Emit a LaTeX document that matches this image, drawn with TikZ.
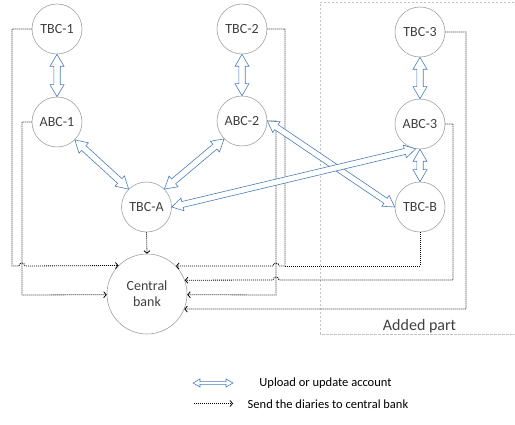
\documentclass[tikz,border=0pt]{standalone}
\usepackage{fontspec}
\setmainfont{Carlito}
\usetikzlibrary{arrows.meta,calc}
\definecolor{arrblue}{RGB}{74,126,187}
\definecolor{txtgray}{RGB}{64,64,64}
\definecolor{ringgray}{RGB}{160,160,160}
\definecolor{boxgray}{RGB}{195,195,195}
\tikzset{
  dblsize/.code n args={3}{\def\dblHL{#1}\def\dblHW{#2}\def\dblSW{#3}},
  dblarrow/.style={draw=arrblue, fill=white, line width=0.6pt, line join=miter,
    to path={let \p1=(\tikztostart), \p2=(\tikztotarget), \n1={atan2(\y2-\y1,\x2-\x1)} in
      -- ($(\p1)+(\n1:\dblHL)+({\n1+90}:\dblHW)$)
      -- ($(\p1)+(\n1:\dblHL)+({\n1+90}:\dblSW)$)
      -- ($(\p2)+({\n1+180}:\dblHL)+({\n1+90}:\dblSW)$)
      -- ($(\p2)+({\n1+180}:\dblHL)+({\n1+90}:\dblHW)$)
      -- (\p2)
      -- ($(\p2)+({\n1+180}:\dblHL)+({\n1-90}:\dblHW)$)
      -- ($(\p2)+({\n1+180}:\dblHL)+({\n1-90}:\dblSW)$)
      -- ($(\p1)+(\n1:\dblHL)+({\n1-90}:\dblSW)$)
      -- ($(\p1)+(\n1:\dblHL)+({\n1-90}:\dblHW)$)
      -- cycle}},
  bigarrow/.style={dblarrow, dblsize={12pt}{7pt}{3.2pt}},
  thinarrow/.style={dblarrow, dblsize={11pt}{6.5pt}{3pt}},
  legarrow/.style={dblarrow, dblsize={7pt}{4pt}{1.4pt}},
  circ/.style={circle, draw=ringgray, line width=0.6pt, fill=white, minimum size=50pt,
    inner sep=0pt, text=txtgray, font=\fontsize{14}{16}\selectfont},
  diary/.style={draw=black, line width=0.8pt, dash pattern=on 1.1pt off 0.9pt},
  diaryarr/.style={diary, -{Straight Barb[length=2.5pt,width=6pt,line width=0.8pt]}},
  lbl/.style={text=txtgray, inner sep=0pt},
}
\begin{document}
\begin{tikzpicture}[x=1pt, y=-1pt]
\useasboundingbox (0,0) rectangle (515,425);
% added part frame
\draw[boxgray, line width=0.8pt, dash pattern=on 2.5pt off 1.5pt]
  (518,2) -- (320,2) -- (320,334) -- (518,334);
\node[lbl, font=\fontsize{16}{18}\selectfont] (added) at (419.5,326) {Added part};
% nodes
\node[circ] (tbc1) at (57,29) {TBC-1};
\node[circ] (abc1) at (57,122) {ABC-1};
\node[circ] (tbc2) at (242,29) {TBC-2};
\node[circ] (abc2) at (242,121) {ABC-2};
\node[circ] (tbc3) at (420,32) {TBC-3};
\node[circ] (abc3) at (420,124) {ABC-3};
\node[circ] (tbca) at (146.5,207) {TBC-A};
\node[circ] (tbcb) at (420,207) {TBC-B};
\node[circ, minimum size=80pt, align=center] (cb) at (147,294) {Central\\bank};
% dotted lines to central bank
\draw[diaryarr] (tbc1.west) -- (12,29) -- (12,266) -- (19,266)
  arc[start angle=180, end angle=360, radius=3] -- (cb.135.6);
\draw[diaryarr] (abc1.west) -- (22,122) -- (22,295) -- (cb.181.4);
\draw[diaryarr] (tbc2.east) -- (285,29) -- (285,266) -- (279,266)
  arc[start angle=0, end angle=-180, radius=3] -- (cb.44.4);
\draw[diary] (tbcb.south) -- (420,266) -- (285,266);
\draw[diaryarr] (abc2.east) -- (276,121) -- (276,295) -- (cb.-1.4);
\draw[diaryarr] (abc3.east) -- (453,124) -- (453,280) -- (279,280)
  arc[start angle=0, end angle=-180, radius=3] -- (cb.20.5);
\draw[diaryarr] (tbc3.east) -- (466,32) -- (466,309) -- (cb.-22);
\draw[diaryarr] (tbca.south) -- (cb.north);
% blue double arrows
\draw[bigarrow] (tbc1.south) to (abc1.north);
\draw[bigarrow] (tbc2.south) to (abc2.north);
\draw[bigarrow] (tbc3.south) to (abc3.north);
\draw[bigarrow] (abc3.south) to (tbcb.north);
\draw[bigarrow] (abc1.-45) to (tbca.135);
\draw[bigarrow] (abc2.-135) to (tbca.45);
\draw[thinarrow] (abc2.east) to (tbcb.west);
\draw[thinarrow] (tbca.east) to (abc3.-100);
% legend
\coordinate (la1) at (193,383);
\coordinate (la2) at (233,383);
\draw[legarrow] (la1) to (la2);
\node[lbl, font=\fontsize{12.5}{14}\selectfont, text=black] (lt1) at (325.5,383) {Upload or update account};
\coordinate (ld1) at (194,403.5);
\coordinate (ld2) at (233,403.5);
\draw[diaryarr] (ld1) -- (ld2);
\node[lbl, font=\fontsize{12.5}{14}\selectfont, text=black] (lt2) at (328,404) {Send the diaries to central bank};
\end{tikzpicture}
\end{document}
